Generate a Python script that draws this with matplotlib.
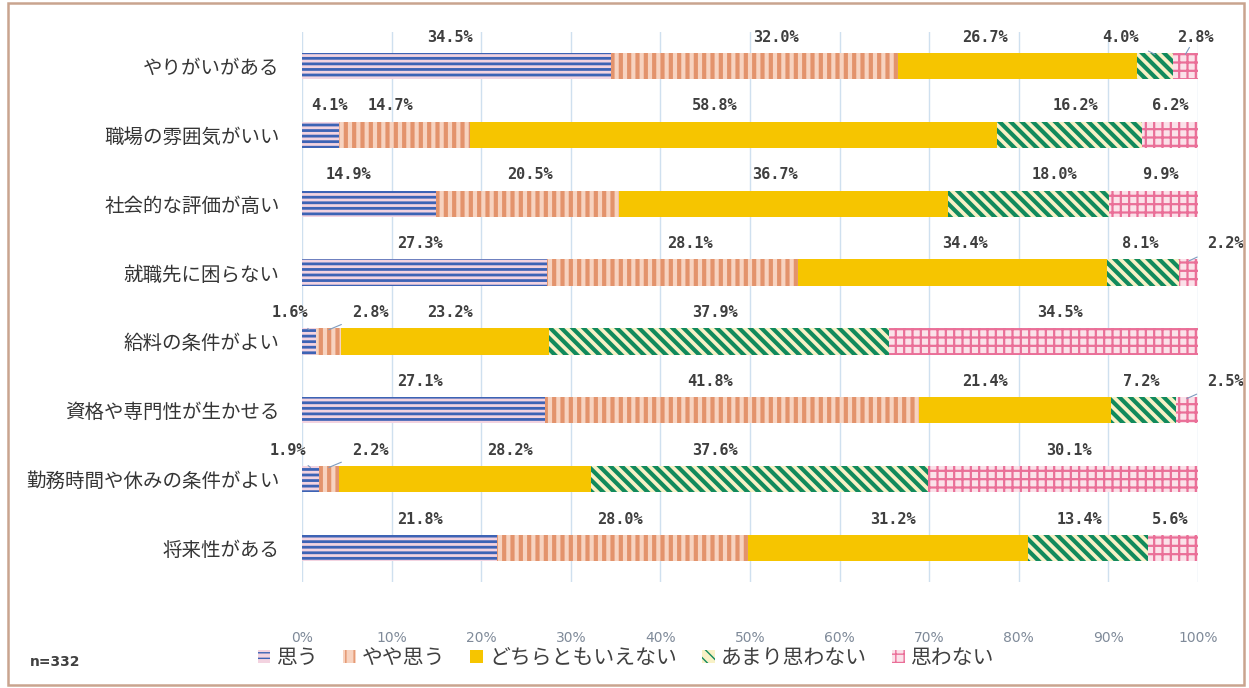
import matplotlib
matplotlib.use("Agg")
import matplotlib.pyplot as plt
from matplotlib.patches import Rectangle
import numpy as np

plt.rcParams['font.family'] = ['Noto Sans CJK JP', 'DejaVu Sans']

categories = ["やりがいがある", "職場の雰囲気がいい", "社会的な評価が高い", "就職先に困らない",
              "給料の条件がよい", "資格や専門性が生かせる", "勤務時間や休みの条件がよい", "将来性がある"]
series_names = ["思う", "やや思う", "どちらともいえない", "あまり思わない", "思わない"]
omou = [34.5, 4.1, 14.9, 27.3, 1.6, 27.1, 1.9, 21.8]
yaya = [32.0, 14.7, 20.5, 28.1, 2.8, 41.8, 2.2, 28.0]
dochira = [26.7, 58.8, 36.7, 34.4, 23.2, 21.4, 28.2, 31.2]
amari = [4.0, 16.2, 18.0, 8.1, 37.9, 7.2, 37.6, 13.4]
omowanai = [2.8, 6.2, 9.9, 2.2, 34.5, 2.5, 30.1, 5.6]
tick_labels = ["0%", "10%", "20%", "30%", "40%", "50%", "60%", "70%", "80%", "90%", "100%"]
n_text = "n=332"

series = [omou, yaya, dochira, amari, omowanai]

# style per series: (facecolor, hatchcolor, hatch, hatch linewidth)
styles = [
    ("#f3d3e0", "#3d63b5", "---", 2.0),
    ("#f7d3c0", "#e3936c", "||", 3.0),
    ("#f6c500", "#f6c500", None, 0),
    ("#f8f1c6", "#118a5c", "\\\\\\", 3.0),
    ("#fbe1e9", "#ea6f98", "++", 1.6),
]

# label horizontal offsets (in %) relative to segment centre; leader flag
label_dx = [
    [-0.7, 2.4, -3.6, -3.9, 1.1],
    [1.0, -1.6, -2.1, 0.6, 0.0],
    [-2.3, 0.3, -1.0, 2.9, 0.7],
    [-0.5, 2.0, 1.4, -0.3, 4.1],
    [-2.1, 4.6, 0.5, -0.5, 1.8],
    [-0.4, -2.5, -3.4, -0.2, 4.3],
    [-2.5, 4.6, 5.0, -5.0, 0.7],
    [2.3, -0.3, 0.6, -0.9, -0.3],
]
leaders = {(0, 3), (0, 4), (3, 4), (4, 0), (4, 1), (5, 4), (6, 0), (6, 1)}

fig = plt.figure(figsize=(12.49, 6.88), dpi=100)
ax = fig.add_axes([302/1249, 1-582.4/688, 896/1249, 550.8/688])

y = np.arange(len(categories))
left = np.zeros(len(categories))
containers = []
for i, (vals, (fc, hc, hatch, hlw)) in enumerate(zip(series, styles)):
    with plt.rc_context({'hatch.linewidth': hlw if hlw else 1.0, 'hatch.color': hc}):
        bc = ax.barh(y, vals, left=left, height=0.38, color=fc, edgecolor=hc,
                     hatch=hatch, linewidth=0, label=series_names[i], zorder=2)
    containers.append(bc)
    for r, v in enumerate(vals):
        cx = left[r] + v / 2
        lx = cx + label_dx[r][i]
        ly = r - 0.42
        if (r, i) in leaders:
            ax.annotate(f"{v:.1f}%", xy=(cx, r - 0.17), xytext=(lx, ly),
                        ha='center', va='center', fontsize=11, fontweight='bold',
                        family='DejaVu Sans Mono', color='#3f3f3f',
                        arrowprops=dict(arrowstyle='-', color='#7e9cc0', lw=0.8,
                                        shrinkA=6, shrinkB=0), zorder=4)
        else:
            ax.text(lx, ly, f"{v:.1f}%", ha='center', va='center', fontsize=11,
                    fontweight='bold', family='DejaVu Sans Mono', color='#3f3f3f', zorder=4)
    left = left + np.array(vals)

ax.set_xlim(0, 100)
ax.set_ylim(len(categories) - 0.5, -0.5)
ax.set_xticks(np.arange(0, 101, 10))
ax.set_xticklabels(tick_labels, fontsize=10, color='#7f8a99', family='DejaVu Sans')
ax.set_yticks(y)
ax.set_yticklabels(categories, fontsize=14, color='#353535')
ax.tick_params(axis='x', length=0, pad=35)
ax.tick_params(axis='y', length=0, pad=16)
ax.grid(axis='x', color='#cfe0ef', lw=1.0, zorder=0)
ax.set_axisbelow(True)
for s in ax.spines.values():
    s.set_visible(False)

leg = fig.legend(handles=containers, labels=series_names, loc='center',
                 bbox_to_anchor=(626/1249, 1-658/688), ncol=5, frameon=False,
                 fontsize=15, handlelength=0.6, handleheight=0.6,
                 handletextpad=0.3, columnspacing=1.2, labelcolor='#404040')

fig.text(30/1249, 1-662/688, n_text, fontsize=10, fontweight='bold', color='#404040',
         va='center', ha='left', family='DejaVu Sans')

fig.add_artist(Rectangle((8/1249, 3/688), 1236/1249, 682/688, transform=fig.transFigure,
                         fill=False, edgecolor='#c9a48f', lw=1.8))

fig.savefig("out.png", dpi=100)
